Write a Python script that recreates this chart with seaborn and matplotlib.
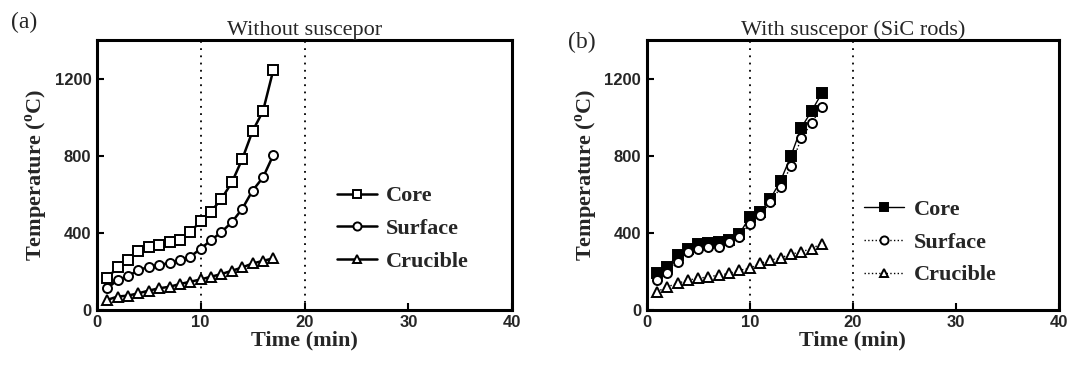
import numpy as np
import pandas as pd
import matplotlib
matplotlib.use("Agg")
import matplotlib.pyplot as plt
import seaborn as sns

time_min = [1, 2, 3, 4, 5, 6, 7, 8, 9, 10, 11, 12, 13, 14, 15, 16, 17]

a_core = [163, 223, 261, 306, 326, 335, 352, 364, 404, 460, 510, 576, 661, 782, 928, 1031, 1246]
a_surface = [112, 155, 175, 206, 223, 232, 244, 258, 275, 318, 361, 404, 455, 524, 619, 687, 804]
a_crucible = [52, 69, 74, 86, 100, 112, 120, 134, 146, 158, 172, 186, 203, 220, 241, 254, 268]

b_core = [189, 223, 283, 318, 343, 347, 352, 361, 395, 481, 507, 576, 670, 799, 945, 1031, 1125]
b_surface = [155, 189, 249, 301, 318, 326, 326, 352, 378, 447, 490, 558, 636, 747, 890, 970, 1052]
b_crucible = [94, 120, 137, 155, 163, 172, 180, 189, 206, 215, 241, 258, 270, 289, 301, 318, 344]

series_names = ["Core", "Surface", "Crucible"]
panel_titles = ["Without suscepor", "With suscepor (SiC rods)"]
panel_tags = ["(a)", "(b)"]
x_ticks = [0, 10, 20, 30, 40]
y_ticks = [0, 400, 800, 1200]

sns.set_theme(style="ticks")
plt.rcParams["font.family"] = ["Liberation Serif", "DejaVu Serif"]
plt.rcParams["mathtext.fontset"] = "custom"
plt.rcParams["mathtext.rm"] = "Liberation Serif"
plt.rcParams["mathtext.bf"] = "Liberation Serif:bold"

fig = plt.figure(figsize=(10.76, 3.68), dpi=100)
ax_a = fig.add_axes([0.090, 0.158, 0.386, 0.733])
ax_b = fig.add_axes([0.601, 0.158, 0.383, 0.733])

def build(core, surf, cruc):
    return pd.DataFrame({
        "time": time_min * 3,
        "temp": core + surf + cruc,
        "series": [series_names[0]] * 17 + [series_names[1]] * 17 + [series_names[2]] * 17,
    })

df_a = build(a_core, a_surface, a_crucible)
df_b = build(b_core, b_surface, b_crucible)

markers = {"Core": "s", "Surface": "o", "Crucible": "^"}

# panel a
for name in series_names:
    d = df_a[df_a.series == name]
    sns.lineplot(data=d, x="time", y="temp", ax=ax_a, color="black", lw=1.8,
                 marker=markers[name], markersize=6.5, markerfacecolor="white",
                 markeredgecolor="black", markeredgewidth=1.4, label=name)

# panel b
styles_b = {
    "Core": dict(ls="-", mfc="black"),
    "Surface": dict(ls=":", mfc="white"),
    "Crucible": dict(ls=":", mfc="white"),
}
for name in series_names:
    d = df_b[df_b.series == name]
    st = styles_b[name]
    sns.lineplot(data=d, x="time", y="temp", ax=ax_b, color="black", lw=1.0,
                 linestyle=st["ls"], marker=markers[name], markersize=6.5,
                 markerfacecolor=st["mfc"], markeredgecolor="black",
                 markeredgewidth=1.4, label=name)

legend_anchor = {0: (0.53, 0.30), 1: (0.48, 0.25)}

for i, (ax, title, tag) in enumerate(zip([ax_a, ax_b], panel_titles, panel_tags)):
    ax.set_xlim(0, 40)
    ax.set_ylim(0, 1400)
    ax.set_xticks(x_ticks)
    ax.set_yticks(y_ticks)
    ax.set_xticklabels([str(t) for t in x_ticks], fontfamily="Liberation Sans",
                       fontweight="bold", fontsize=12)
    ax.set_yticklabels([str(t) for t in y_ticks], fontfamily="Liberation Sans",
                       fontweight="bold", fontsize=12)
    ax.tick_params(direction="in", length=5, width=1.5, pad=4, color="black")
    for sp in ax.spines.values():
        sp.set_visible(True)
        sp.set_linewidth(2.2)
        sp.set_color("black")
    for xv in (10, 20):
        ax.axvline(xv, color="black", lw=1.3, ls=(0, (1, 3)), zorder=0)
    ax.set_xlabel("Time (min)", fontsize=16, fontweight="bold", labelpad=0)
    ax.set_ylabel(r"Temperature ($^{\mathbf{o}}$C)", fontsize=16, fontweight="bold", labelpad=3)
    ax.set_title(title, fontsize=16, pad=4)
    ax.grid(False)
    leg = ax.legend(loc="center left", bbox_to_anchor=legend_anchor[i], frameon=False,
                    prop={"family": "Liberation Serif", "weight": "bold", "size": 16},
                    handlelength=1.8, handletextpad=0.4, labelspacing=0.55,
                    markerscale=0.9)

fig.text(0.010, 0.925, "(a)", fontsize=17)
fig.text(0.528, 0.87, "(b)", fontsize=17)

fig.savefig("out.png", dpi=100, facecolor="white")
